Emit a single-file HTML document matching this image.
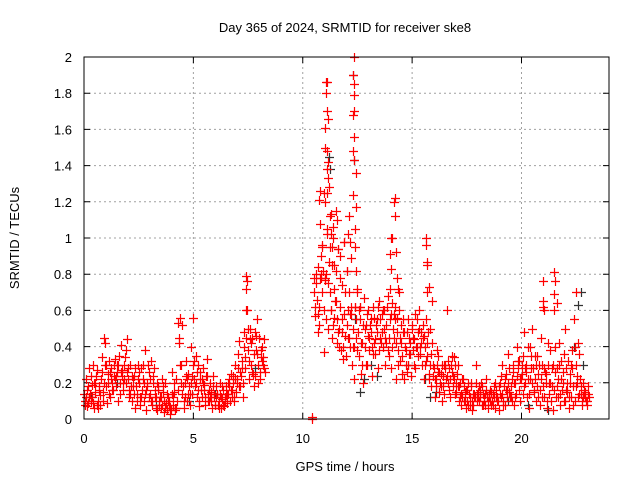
<!DOCTYPE html>
<html><head><meta charset="utf-8"><style>
body{margin:0;background:#fff}
svg{display:block;font-family:"Liberation Sans",Arial,sans-serif}
</style></head><body>
<svg id="chart" width="640" height="480" viewBox="0 0 640 480" xmlns="http://www.w3.org/2000/svg">
<rect width="640" height="480" fill="#fff"/>
<text x="345" y="32" font-size="13" text-anchor="middle">Day 365 of 2024, SRMTID for receiver ske8</text>
<text x="345" y="471" font-size="13" text-anchor="middle">GPS time / hours</text>
<text transform="translate(19,238) rotate(-90)" font-size="13" text-anchor="middle">SRMTID / TECUs</text>
<g id="grid"></g>
<g id="ticks"></g>
<g id="marks-black"></g>
<g id="marks-red"></g>
<rect x="84" y="57" width="525" height="362" fill="none" stroke="#000" stroke-width="1"/>
</svg>
<script>
const xTicks = [0,5,10,15,20];
const yTicks = [0,0.2,0.4,0.6,0.8,1,1.2,1.4,1.6,1.8,2];
const yTickLabels = ["0","0.2","0.4","0.6","0.8","1","1.2","1.4","1.6","1.8","2"];
const redT = [0.0,0.1,0.2,0.3,0.4,0.5,0.6,0.7,0.8,0.9,1.0,1.1,1.2,1.3,1.4,1.5,1.6,1.7,1.8,1.9,2.0,2.1,2.2,2.3,2.4,2.5,2.6,2.7,2.8,2.9,3.0,3.1,3.2,3.3,3.4,3.5,3.6,3.7,3.8,3.9,4.0,4.1,4.2,4.3,4.4,4.5,4.6,4.7,4.8,4.9,5.0,5.1,5.2,5.3,5.4,5.5,5.6,5.7,5.8,5.9,6.0,6.1,6.2,6.3,6.4,6.5,6.6,6.7,6.8,6.9,7.0,7.1,7.2,7.3,7.4,7.5,7.6,7.7,7.8,7.9,8.0,8.1,8.2,
10.5,10.6,10.7,10.8,10.9,11.0,11.1,11.2,11.3,11.4,11.5,11.6,11.7,11.8,11.9,12.0,12.1,12.2,12.3,12.4,12.5,12.6,12.7,12.8,12.9,13.0,13.1,13.2,13.3,13.4,13.5,13.6,13.7,13.8,13.9,14.0,14.1,14.2,14.3,14.4,14.5,14.6,14.7,14.8,14.9,15.0,15.1,15.2,15.3,15.4,15.5,15.6,15.7,15.8,15.9,16.0,16.1,16.2,16.3,16.4,16.5,16.6,16.7,16.8,16.9,17.0,17.1,17.2,17.3,17.4,17.5,17.6,17.7,17.8,17.9,18.0,18.1,18.2,18.3,18.4,18.5,18.6,18.7,18.8,18.9,19.0,19.1,19.2,19.3,19.4,19.5,19.6,19.7,19.8,19.9,20.0,20.1,20.2,20.3,20.4,20.5,20.6,20.7,20.8,20.9,21.0,21.1,21.2,21.3,21.4,21.5,21.6,21.7,21.8,21.9,22.0,22.1,22.2,22.3,22.4,22.5,22.6,22.7,22.8,22.9,23.0];
const redA = [.14,.22,.18,.10,.30,.15,.27,.18,.34,.45,.30,.25,.12,.20,.33,.26,.35,.41,.16,.38,.28,.30,.10,.24,.14,.20,.28,.22,.38,.18,.14,.08,.28,.12,.18,.06,.15,.20,.05,.10,.26,.15,.22,.53,.56,.14,.20,.10,.18,.40,.56,.35,.30,.22,.12,.19,.33,.10,.15,.24,.08,.14,.20,.11,.07,.18,.14,.25,.20,.30,.22,.43,.28,.48,.60,.38,.50,.45,.24,.55,.45,.34,.30,
.78,.80,.48,1.08,.95,.77,1.02,.87,.60,1.0,.82,.94,.62,.55,.98,.82,.70,.58,.50,.62,.72,.55,.42,.67,.52,.60,.48,.62,.36,.55,.65,.58,.50,.42,.68,.72,.64,.55,.48,.60,.42,.55,.38,.30,.42,.52,.44,.55,.60,.48,.52,.40,.35,.50,.65,.28,.22,.35,.25,.18,.30,.60,.28,.35,.22,.15,.30,.20,.12,.15,.10,.14,.18,.08,.30,.15,.12,.18,.10,.22,.12,.15,.08,.20,.10,.14,.30,.18,.25,.36,.12,.30,.20,.40,.32,.25,.48,.30,.40,.22,.50,.35,.18,.30,.45,.62,.20,.30,.38,.18,.60,.28,.42,.32,.20,.50,.15,.25,.38,.55,.30,.42,.18,.12,.15,.10];
const redB = [.10,.07,.28,.19,.06,.24,.10,.08,.15,.42,.09,.14,.22,.30,.24,.10,.20,.27,.22,.44,.12,.18,.22,.06,.30,.08,.16,.10,.05,.26,.32,.20,.12,.05,.10,.22,.04,.09,.12,.03,.08,.05,.10,.45,.30,.06,.32,.25,.08,.14,.22,.12,.07,.16,.28,.08,.14,.20,.06,.12,.18,.10,.06,.16,.12,.09,.22,.12,.10,.15,.36,.18,.12,.34,.76,.22,.30,.18,.38,.30,.26,.40,.28,
.57,.66,.62,.80,.37,.55,.50,.70,.45,.56,.42,.50,.38,.33,.46,.60,.40,.30,.22,.45,.35,.25,.20,.50,.30,.38,.24,.42,.52,.28,.45,.40,.30,.62,.35,.28,.45,.22,.38,.32,.25,.22,.48,.45,.24,.38,.28,.35,.40,.30,.22,.55,.25,.18,.30,.12,.30,.15,.10,.30,.22,.20,.12,.18,.30,.25,.10,.08,.18,.06,.20,.08,.05,.12,.14,.10,.20,.08,.14,.06,.16,.10,.18,.12,.05,.24,.10,.08,.12,.15,.22,.08,.14,.28,.10,.35,.20,.12,.06,.28,.15,.10,.25,.08,.12,.28,.06,.14,.10,.05,.26,.12,.08,.16,.10,.28,.06,.12,.18,.10,.20,.14,.08,.16,.10,.14];
const redC = [.08,.16,.12,.24,.09,.20,.06,.13,.26,.20,.18,.32,.28,.16,.22,.30,.14,.24,.30,.20,.22,.14,.18,.28,.10,.26,.12,.20,.16,.30,.22,.10,.16,.20,.08,.12,.18,.06,.10,.06,.14,.20,.06,.42,.20,.18,.12,.22,.14,.24,.32,.20,.16,.26,.20,.12,.24,.16,.10,.14,.12,.08,.14,.18,.10,.14,.18,.16,.24,.22,.28,.26,.32,.40,.45,.32,.42,.25,.48,.36,.22,.32,.44,
.70,.75,.52,.90,.82,.78,1.05,.95,.85,.72,.65,.48,.90,.40,.70,.52,.45,.62,.40,.55,.48,.62,.30,.40,.58,.45,.55,.36,.44,.62,.55,.48,.60,.52,.45,.58,.50,.62,.56,.45,.35,.48,.30,.55,.36,.45,.58,.40,.50,.42,.46,.32,.48,.30,.42,.22,.38,.26,.18,.24,.28,.32,.22,.26,.34,.20,.18,.14,.22,.10,.16,.12,.10,.14,.20,.12,.16,.14,.08,.12,.14,.08,.12,.16,.10,.20,.14,.22,.16,.28,.18,.26,.12,.32,.22,.30,.18,.26,.14,.35,.28,.22,.35,.16,.30,.12,.25,.42,.20,.30,.40,.18,.30,.22,.36,.16,.32,.20,.28,.40,.24,.36,.14,.20,.12,.18];
const redD = [.12,.09,.14,.12,.20,.08,.16,.22,.10,.30,.20,.26,.16,.24,.18,.30,.26,.20,.34,.26,.16,.24,.14,.18,.22,.12,.30,.14,.20,.12,.10,.24,.06,.16,.12,.08,.10,.14,.08,.05,.12,.06,.16,.30,.52,.10,.24,.14,.20,.30,.18,.26,.10,.22,.16,.24,.10,.12,.18,.08,.14,.06,.12,.08,.14,.20,.10,.16,.12,.20,.18,.24,.20,.28,.50,.44,.26,.36,.46,.20,.38,.34,.26,
.62,.58,.78,.70,.60,.80,.75,.60,.52,.65,.55,.40,.48,.58,.35,.45,.58,.40,.62,.38,.60,.42,.52,.30,.46,.52,.40,.56,.48,.38,.42,.60,.45,.38,.55,.40,.58,.42,.30,.52,.48,.40,.26,.36,.50,.30,.40,.48,.36,.45,.30,.42,.22,.36,.24,.18,.26,.20,.30,.14,.24,.16,.30,.24,.14,.18,.12,.22,.10,.16,.08,.20,.14,.12,.10,.18,.08,.12,.16,.10,.10,.14,.06,.12,.18,.12,.08,.16,.20,.12,.10,.20,.24,.16,.22,.14,.28,.22,.40,.20,.16,.30,.12,.22,.18,.26,.10,.20,.28,.16,.12,.22,.14,.26,.10,.20,.12,.30,.08,.18,.12,.22,.10,.14,.08,.12];
const spikeT = [11.05,11.1,11.05,11.1,11.15,11.0,11.0,11.1,11.15,11.1,11.15,11.2,11.1,10.8,10.75,10.95,11.0,11.3,11.5,11.4,12.1,12.15,12.2,12.35,12.3,12.35,12.35,12.35,12.3,12.35,12.3,12.35,12.45,12.3,12.45,12.4,12.4,12.45,14.05,14.1,14.2,14.15,14.2,14.0,14.25,14.3,14.35,14.4,14.05,15.65,15.65,15.7,15.7,15.75,15.7,21.0,21.0,21.05,21.5,21.55,21.5,21.6,22.5,7.4,7.4,7.45,10.4,10.4,
11.3,11.35,11.45,11.6,11.7,11.9,12.0,12.05,11.8,11.55,10.7,10.85,10.9,11.25,12.5,12.6];
const spikeV = [1.86,1.86,1.80,1.70,1.66,1.61,1.50,1.48,1.42,1.38,1.33,1.28,1.25,1.26,1.21,1.25,1.20,1.13,1.15,1.06,1.12,0.98,0.89,2.0,1.90,1.85,1.79,1.70,1.68,1.56,1.48,1.43,1.36,1.24,1.17,1.05,0.95,0.82,1.0,1.0,1.22,1.20,1.12,0.91,0.92,0.78,0.72,0.70,0.83,1.0,0.96,0.87,0.85,0.73,0.70,0.76,0.65,0.60,0.81,0.76,0.69,0.64,0.70,0.79,0.72,0.60,0.0,0.01,
1.02,0.95,0.85,0.94,0.78,0.98,0.82,1.02,0.74,1.10,0.84,0.78,0.96,1.12,0.70,0.62];
const blackT = [11.2,11.25,12.3,12.35,12.4,12.6,12.8,13.1,13.4,14.8,15.6,15.8,16.1,19.4,20.3,21.2,22.4,22.6,22.7,22.8,0.3,1.5,3.3,4.8,6.0,7.8];
const blackV = [1.45,1.38,1.90,1.43,0.55,0.15,0.22,0.30,0.24,0.30,0.22,0.12,0.15,0.10,0.08,0.05,0.40,0.63,0.70,0.30,0.12,0.20,0.08,0.10,0.14,0.28];

const X0=84, X1=609, Y0=419, Y1=57, XMAX=24, YMAX=2;
const sx = t => X0 + t/XMAX*(X1-X0);
const sy = v => Y0 - v/YMAX*(Y0-Y1);
const NS="http://www.w3.org/2000/svg";
const grid=document.getElementById('grid'), ticks=document.getElementById('ticks');
function mk(tag, attrs, parent){const e=document.createElementNS(NS,tag);for(const k in attrs)e.setAttribute(k,attrs[k]);parent.appendChild(e);return e;}
xTicks.forEach((t,i)=>{
  const x=sx(t);
  if(t>0){const g=mk('line',{x1:x,x2:x,y1:Y0,y2:Y1,stroke:'#a0a0a0','stroke-dasharray':'2,3','stroke-width':1},grid);
  
  }
  const tk=mk('path',{d:`M${x},${Y0}v-6M${x},${Y1}v6`,stroke:'#000'},ticks);
  
  
  const l=mk('text',{x:x,y:443,'font-size':13,'text-anchor':'middle'},ticks);l.textContent=String(t);
  
  
});
yTicks.forEach((v,i)=>{
  const y=sy(v);
  if(v>0&&v<YMAX){const g=mk('line',{x1:X0,x2:X1,y1:y,y2:y,stroke:'#a0a0a0','stroke-dasharray':'2,3','stroke-width':1},grid);
  
  }
  const tk=mk('path',{d:`M${X0},${y}h6M${X1},${y}h-6`,stroke:'#000'},ticks);
  
  
  const l=mk('text',{x:72,y:y+5,'font-size':13,'text-anchor':'end'},ticks);l.textContent=yTickLabels[i];
  
  
});
function plus(t,v,color,g,name){
  const x=Math.round(sx(t))+0.5, y=Math.round(sy(v))+0.5;
  const p=mk('path',{d:`M${x-4.5},${y}h9M${x},${y-4.5}v9`,stroke:color,'stroke-width':1.2,fill:'none'},g);
  
  
}
const gb=document.getElementById('marks-black'), gr=document.getElementById('marks-red');
blackT.forEach((t,i)=>plus(t,blackV[i],'#333',gb,'black-point'));
redT.forEach((t,i)=>{
  plus(t,redA[i],'#f00',gr,'red-point');
  plus(t+0.025,redC[i],'#f00',gr,'red-point');
  plus(t+0.05,redB[i],'#f00',gr,'red-point');
  plus(t+0.075,redD[i],'#f00',gr,'red-point');
});
spikeT.forEach((t,i)=>plus(t,spikeV[i],'#f00',gr,'red-point'));
</script>
</body></html>
